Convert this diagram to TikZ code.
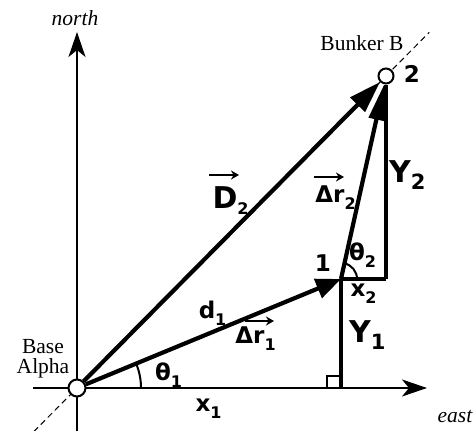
\documentclass[tikz,border=0pt]{standalone}
\usepackage{fontspec}
\setmainfont{Liberation Serif}
\newfontfamily\handf{DejaVu Sans}
\usetikzlibrary{arrows.meta,calc}
\pgfdeclarelayer{bg}
\pgfsetlayers{bg,main}
\newcommand\sublab[2]{#1\rlap{\raisebox{-0.3em}{\fontsize{16}{16}\selectfont #2}}}
\newcommand\subD[2]{#1\rlap{\raisebox{-0.2em}{\fontsize{16}{16}\selectfont #2}}}
\newcommand\subY[2]{#1\rlap{\raisebox{-0.25em}{\fontsize{21}{21}\selectfont #2}}}
\begin{document}
\begin{tikzpicture}[x=1pt,y=-1pt,
  vecA/.style={line width=4.2pt,-{Triangle[length=32pt,width=20pt]}},
  vecB/.style={line width=4.2pt,-{Triangle[length=36pt,width=15pt]}},
  vecC/.style={line width=4.2pt,-{Triangle[length=25pt,width=20pt]}},
  axis/.style={line width=2.2pt,-{Stealth[length=25pt,width=17pt,inset=7pt]}},
  thinl/.style={line width=3.2pt},
  harrow/.style={line width=2.4pt,-{Stealth[length=8pt,width=9pt]}},
  guide/.style={line width=1pt,dash pattern=on 6pt off 4pt},
  hand/.style={font=\handf\bfseries\fontsize{23}{26}\selectfont,inner sep=0pt},
  handS/.style={font=\handf\bfseries\fontsize{23}{26}\selectfont,inner sep=0pt},
  handY/.style={font=\handf\bfseries\fontsize{30}{33}\selectfont,inner sep=0pt},
  serif/.style={font=\fontsize{21.5}{24}\selectfont},
  serifit/.style={font=\itshape\fontsize{21.5}{24}\selectfont},
  dot/.style={circle,draw,line width=2pt,fill=white,inner sep=0pt,minimum size=17pt},
  bdot/.style={circle,draw,line width=2pt,fill=white,inner sep=0pt,minimum size=15pt}]
\useasboundingbox (0,0) rectangle (475,431);

% points
\node[dot] (O) at (77,388) {};
\coordinate (P1) at (341,279);
\node[bdot] (P2) at (386,76) {};
\coordinate (C0) at (P1 |- O);
\coordinate (C1) at (P1 -| P2);
\coordinate (LL) at ($(O)!-0.14!(P2)$);
\coordinate (UR) at ($(P2)!-0.14!(O)$);
\coordinate (N0) at (77,431);
\coordinate (N1) at (77,32);
\coordinate (E0) at (33,388);
\coordinate (E1) at (427,388);

\begin{pgfonlayer}{bg}
  \draw[guide] (LL) -- (UR);
  \draw[axis] (N0) -- (N1);
  \draw[axis] (E0) -- (E1);
  \draw[thinl] (P1) -- (C0);
  \draw[thinl] (P1) -- (C1);
  \draw[thinl] (C1) -- (P2);
  \draw[line width=1.8pt] ($(C0)+(-14,0)$) |- ($(C0)+(0,-12)$);
  \draw[line width=2pt] ($(O)+(64pt,0)$) arc[start angle=0,end angle=22.4,radius=64pt];
  \draw[line width=2pt] ($(P1)+(16pt,0)$) arc[start angle=0,end angle=77.5,radius=16pt];
  \draw[vecC] (O) -- (P1);
  \draw[vecB] (P1) -- (P2);
  \draw[vecA] (O) -- (P2);
\end{pgfonlayer}

% labels
\node[serifit] (lnorth) at (75,18) {north};
\node[serifit] (least) at (455,417) {east};
\node[serif,align=center] (lbase) at (43,359) {Base\\[-4pt]Alpha};
\node[serif] (lbunker) at (362,43) {Bunker B};
\node[hand] (l2) at (412,74) {2};
\node[hand] (l1) at (323,263) {1};
\node[handY] (lD) at (225,201) {\subD{D}{2}};
\node[handS] (ldr2) at (330,198) {\sublab{Δr}{2}};
\node[handS] (ldr1) at (250,339) {\sublab{Δr}{1}};
\draw[harrow] ($(lD)+(-16,-26)$) -- ($(lD)+(14,-26)$);
\draw[harrow] ($(ldr2)+(-16,-21)$) -- ($(ldr2)+(14,-21)$);
\draw[harrow] ($(ldr1)+(-5,-18)$) -- ($(ldr1)+(24,-18)$);
\node[hand] (ld1) at (207,313) {\sublab{d}{1}};
\node[hand] (lt1) at (163,375) {\sublab{θ}{1}};
\node[hand] (lt2) at (357,255) {\sublab{θ}{2}};
\node[hand] (lx1) at (203,409) {\sublab{x}{1}};
\node[hand] (lx2) at (358,294) {\sublab{x}{2}};
\node[handY] (ly1) at (360,335) {\subY{Y}{1}};
\node[handY] (ly2) at (400,175) {\subY{Y}{2}};
\end{tikzpicture}
\end{document}
